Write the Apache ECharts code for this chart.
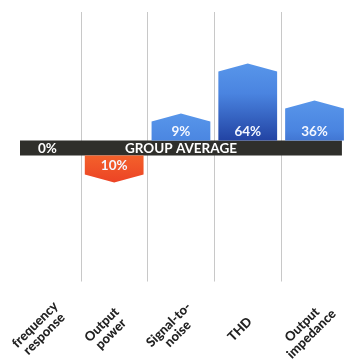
<!DOCTYPE html>
<html>
<head>
<meta charset="utf-8">
<script src="https://cdn.jsdelivr.net/npm/echarts@6/dist/echarts.min.js"></script>
<style>
  html, body { margin: 0; padding: 0; background: #ffffff; }
  #chart { width: 356px; height: 363px; }
</style>
</head>
<body>
<div id="chart"></div>
<script>
// Test categories along the x axis
const categories = ['frequency\nresponse', 'Output\npower', 'Signal-to-\nnoise', 'THD', 'Output\nimpedance'];
// Percentage difference from the group average (negative = below average)
const deviation = [0, -10, 9, 64, 36];
// The group average itself sits on the zero line
const averageValue = [0];
const averageLabel = 'GROUP AVERAGE';

const BAND_HALF = 7.5;   // half thickness of the average band, px
const MIN_HEIGHT = 27;   // smallest bar length, like barMinHeight
const CAP = 8;           // height of the pointed bar end, px
const FONT = 'Lato, "Open Sans", sans-serif';

function hex(c) { return [1, 3, 5].map(i => parseInt(c.slice(i, i + 2), 16)); }
function mix(a, b, t) {
  const A = hex(a), B = hex(b);
  return 'rgb(' + A.map((v, i) => Math.round(v + (B[i] - v) * t)).join(',') + ')';
}
// blue darkens with distance from the bar tip
function blueAt(d) {
  if (d <= 30) return mix('#5896ea', '#4a84e0', d / 30);
  return mix('#4a84e0', '#1f3f9f', Math.min(1, (d - 30) / 50));
}

function renderBar(params, api) {
  const idx = api.value(0);
  const v = api.value(1);
  const zero = api.coord([idx, 0]);
  const end = api.coord([idx, v]);
  const cx = zero[0];
  const w = api.size([1, 0])[0] * 0.88;
  const x0 = cx - w / 2, x1 = cx + w / 2;
  const text = Math.abs(v) + '%';
  const labelStyle = { text: text, fill: '#f4f7ff', font: 'bold 13.5px ' + FONT, align: 'center', verticalAlign: 'middle' };

  if (v === 0) {
    return { type: 'text', z2: 20, style: Object.assign({}, labelStyle, { x: cx, y: zero[1] + 0.5, fill: '#ffffff' }) };
  }

  let base, tip, shoulder, fill, labelY;
  if (v > 0) {
    base = zero[1] - BAND_HALF;
    tip = Math.min(end[1], base - MIN_HEIGHT);
    shoulder = tip + CAP;
    const h = base - tip;
    fill = new echarts.graphic.LinearGradient(0, 0, 0, 1, [
      { offset: 0, color: blueAt(0) },
      { offset: Math.min(1, 30 / h), color: blueAt(Math.min(30, h)) },
      { offset: 1, color: blueAt(h) }
    ]);
    labelY = base - 8.5;
  } else {
    base = zero[1] + BAND_HALF;
    tip = Math.max(end[1], base + MIN_HEIGHT);
    shoulder = tip - CAP;
    fill = new echarts.graphic.LinearGradient(0, 0, 0, 1, [
      { offset: 0, color: '#f3612b' },
      { offset: 1, color: '#ec4325' }
    ]);
    labelY = base + 10.5;
  }

  return {
    type: 'group',
    children: [
      {
        type: 'polygon',
        shape: { points: [[x0, base], [x0, shoulder], [cx, tip], [x1, shoulder], [x1, base]] },
        style: { fill: fill }
      },
      { type: 'text', z2: 10, style: Object.assign({}, labelStyle, { x: cx, y: labelY }) }
    ]
  };
}

function renderBand(params, api) {
  const cs = params.coordSys;
  const zy = api.coord([0, api.value(1)])[1];
  return {
    type: 'group',
    children: [
      {
        type: 'rect',
        shape: { x: cs.x + 6, y: zy - BAND_HALF, width: cs.width - 12, height: BAND_HALF * 2 },
        style: { fill: '#2f2f2b' }
      },
      {
        type: 'text',
        style: {
          text: averageLabel, x: cs.x + cs.width / 2, y: zy + 0.5,
          fill: '#ffffff', font: 'bold 13.5px ' + FONT, align: 'center', verticalAlign: 'middle'
        }
      }
    ]
  };
}

const chart = echarts.init(document.getElementById('chart'), null, { renderer: 'canvas' });
chart.setOption({
  animation: false,
  backgroundColor: '#ffffff',
  grid: { left: 14, right: 8, top: 12, bottom: 70, containLabel: false },
  xAxis: {
    type: 'category',
    data: categories,
    axisLine: { show: false },
    axisTick: { show: false },
    splitLine: { show: true, showMinLine: false, showMaxLine: false, lineStyle: { color: '#c8c8c8', width: 1 } },
    axisLabel: {
      interval: 0,
      rotate: 45,
      align: 'center',
      verticalAlign: 'middle',
      margin: 40,
      padding: [0, 22, 0, 0],
      color: '#222222',
      fontFamily: FONT,
      fontWeight: 900,
      fontSize: 13,
      lineHeight: 13
    }
  },
  yAxis: { type: 'value', min: -101, max: 103, show: false, splitLine: { show: false } },
  series: [
    {
      type: 'custom',
      renderItem: renderBand,
      data: averageValue.map(v => [0, v]),
      encode: { y: 1 },
      z: 2
    },
    {
      type: 'custom',
      renderItem: renderBar,
      data: deviation.map((v, i) => [i, v]),
      encode: { x: 0, y: 1 },
      z: 3
    }
  ]
});
</script>
</body>
</html>
